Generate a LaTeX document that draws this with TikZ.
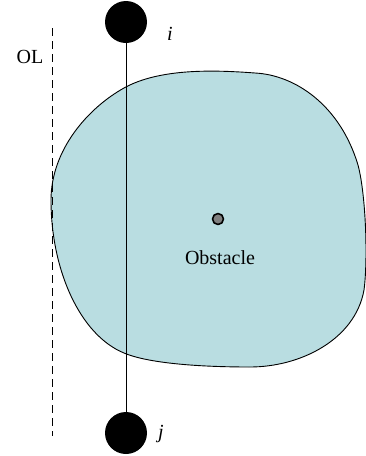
\documentclass[tikz,border=0pt]{standalone}
\usepackage{fontspec}
\setmainfont{Liberation Serif}
\usepackage{tikz}
\definecolor{obstfill}{RGB}{185,221,225}
\definecolor{dotgray}{RGB}{128,128,128}

\begin{document}
\begin{tikzpicture}[x=1pt, y=-1pt, line width=0.9pt, line cap=round, line join=round,
  agent/.style={circle, fill=black, inner sep=0pt, minimum size=42pt},
  lbl/.style={inner sep=0pt, font=\fontsize{20}{24}\selectfont}]
  %% 障碍物：七段贝塞尔拼成的闭合曲线（左端切线竖直）
  \draw[fill=obstfill] (51,200)
    .. controls (51,150) and (88,108) .. (124,88)
    .. controls (160,68) and (215,70) .. (255,73)
    .. controls (295,75) and (340,105) .. (358,165)
    .. controls (366,195) and (368,260) .. (364,290)
    .. controls (355,340) and (300,367) .. (250,367)
    .. controls (190,367) and (145,362) .. (124,353)
    .. controls (80,335) and (51,270) .. (51,200) -- cycle;

  %% 虚线 OL
  \coordinate (olTop) at (52,28);
  \coordinate (olBot) at (52,436);
  \draw[dashed, dash pattern=on 8pt off 5pt, line cap=butt] (olTop) -- (olBot);

  %% 两个节点 i, j 及连线
  \node[agent] (i) at (126,22) {};
  \node[agent] (j) at (126,433) {};
  \draw (i) -- (j);

  %% 中心点
  \node[circle, draw=black, fill=dotgray, line width=1.6pt, inner sep=0pt, minimum size=11pt] (center) at (218,219) {};

  %% 标签
  \node[lbl] (labI) at (170,34) {\textit{i}};
  \node[lbl] (labJ) at (161,434) {\textit{j}};
  \node[lbl] (labOL) at (30,57) {OL};
  \node[lbl] (labObs) at (220,258) {Obstacle};

  \pgfresetboundingbox
  \path[use as bounding box] (0,0) rectangle (365,456);
\end{tikzpicture}
\end{document}
